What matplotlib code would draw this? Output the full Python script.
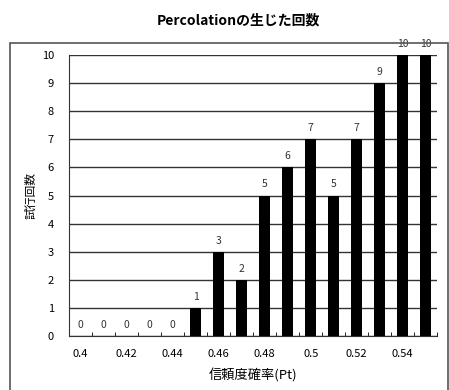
import matplotlib.pyplot as plt
import numpy as np
from matplotlib.patches import Rectangle

plt.rcParams['font.family'] = ['Noto Sans CJK JP', 'DejaVu Sans']

pt = [0.40, 0.41, 0.42, 0.43, 0.44, 0.45, 0.46, 0.47,
      0.48, 0.49, 0.50, 0.51, 0.52, 0.53, 0.54, 0.55]
counts = [0, 0, 0, 0, 0, 1, 3, 2, 5, 6, 7, 5, 7, 9, 10, 10]
tick_labels = ['0.4', '0.42', '0.44', '0.46', '0.48', '0.5', '0.52', '0.54']

fig = plt.figure(figsize=(4.49, 3.9), dpi=100)
ax = fig.add_axes([0.154, 0.138, 0.82, 0.721])

# outer frame like the spreadsheet chart area
fig.patches.append(Rectangle((10 / 449, -0.01), 0.975, 1 - 43 / 390 + 0.01,
                             transform=fig.transFigure, fill=False,
                             edgecolor='#555555', linewidth=1.2))

x = np.arange(len(pt))
ax.bar(x, counts, width=0.48, color='black', zorder=3)
for xi, c in zip(x, counts):
    ax.text(xi, c + 0.22, str(c), ha='center', va='bottom', fontsize=7.5,
            color='#333333', zorder=4)

ax.set_xlim(-0.5, len(pt) - 0.5)
ax.set_ylim(0, 10)
ax.set_yticks(range(11))
ax.yaxis.grid(True, color='#333333', linewidth=1.0, zorder=0)
ax.set_xticks(x[::2])
ax.set_xticklabels(tick_labels)
ax.set_xticks(np.arange(-0.5, len(pt), 1), minor=True)
ax.tick_params(axis='x', which='major', length=0, pad=9, labelsize=8)
ax.tick_params(axis='x', which='minor', direction='in', length=3)
ax.tick_params(axis='y', length=0, pad=11, labelsize=8)

for side in ['top', 'right']:
    ax.spines[side].set_visible(False)
ax.spines['left'].set_color('#333333')
ax.spines['bottom'].set_color('#333333')

ax.set_xlabel('信頼度確率(Pt)', fontsize=9.5, labelpad=7)
ax.set_ylabel('試行回数', fontsize=8.5, labelpad=3)
fig.suptitle('Percolationの生じた回数', x=0.53, y=0.965, fontsize=10,
             fontweight='bold')

fig.savefig('out.png', dpi=100)
